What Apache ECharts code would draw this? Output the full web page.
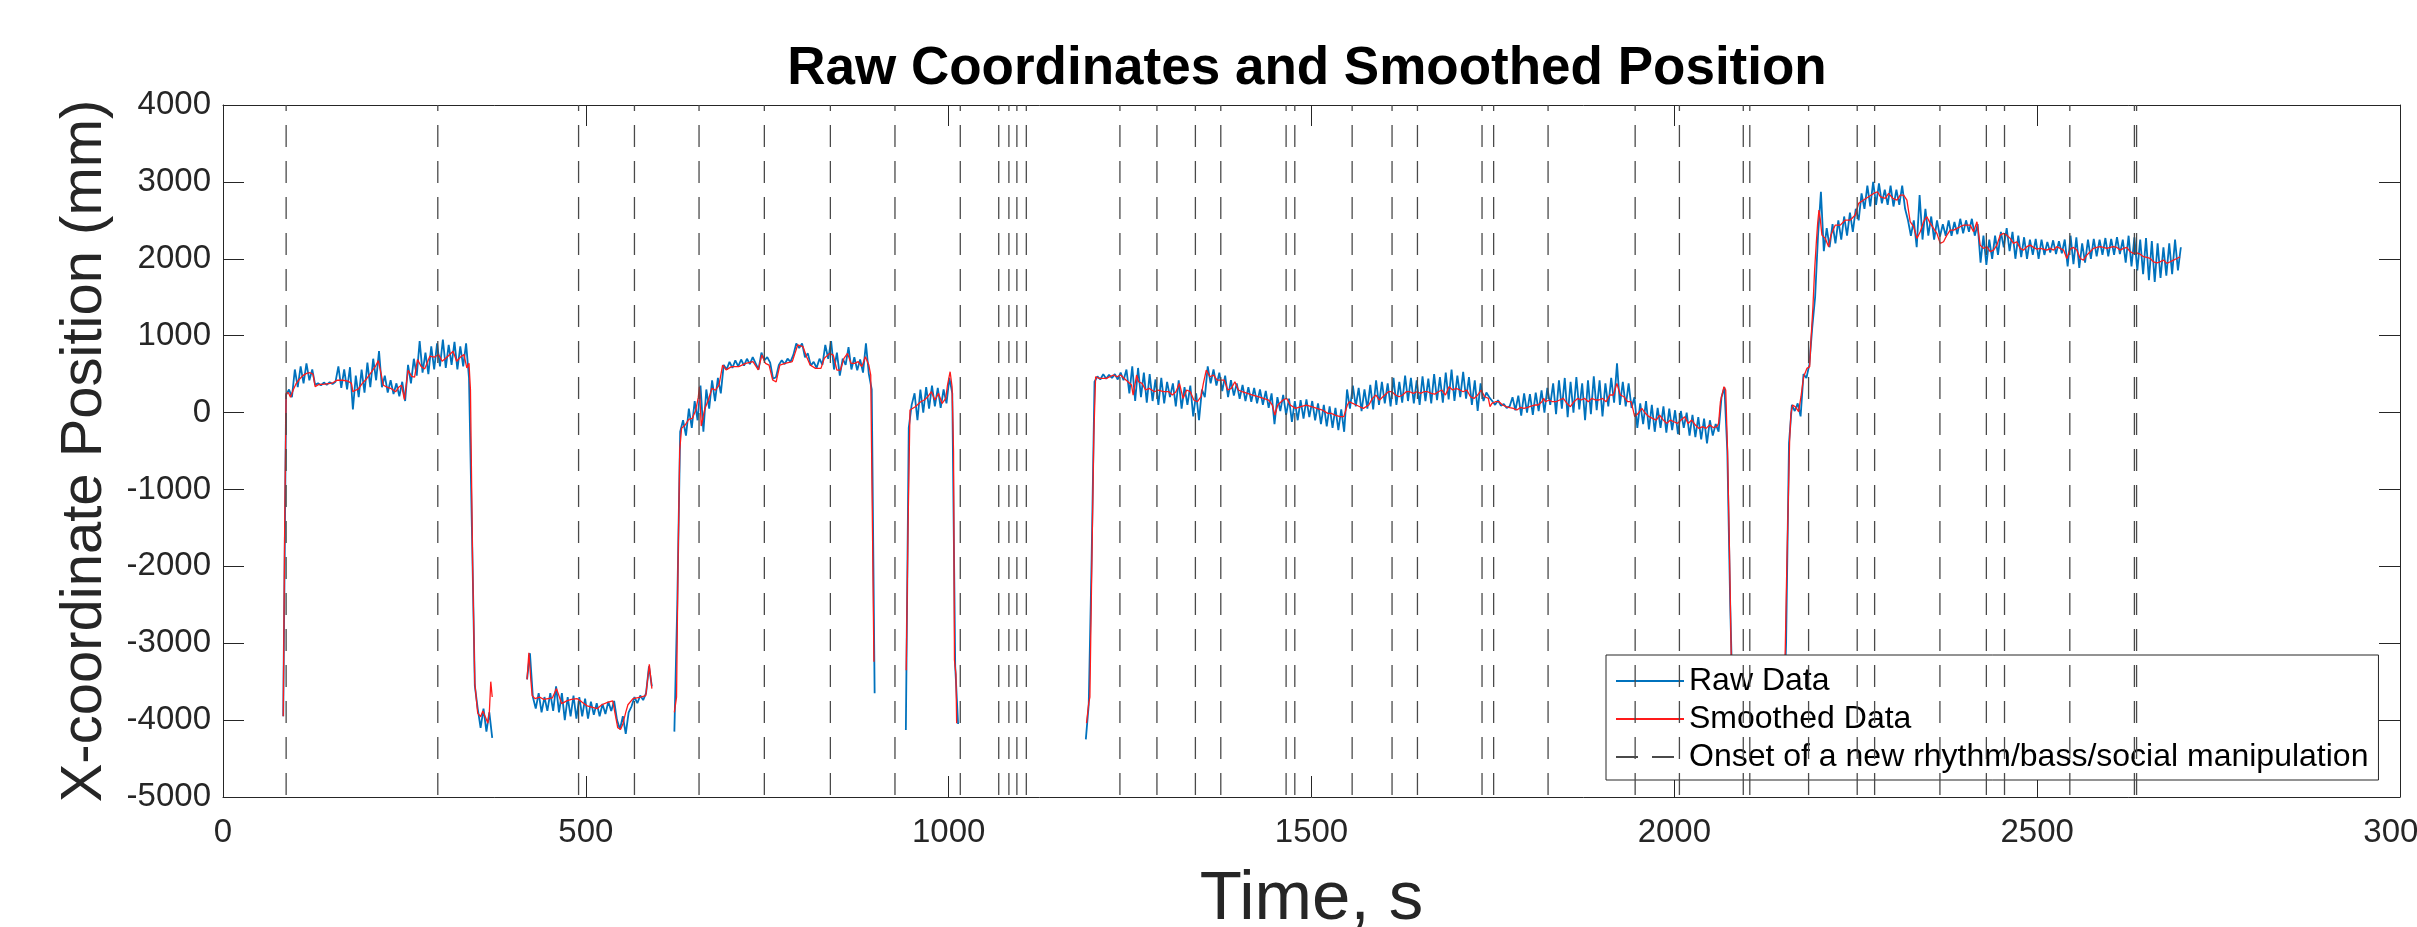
<!DOCTYPE html>
<html>
<head>
<meta charset="utf-8">
<script src="https://cdn.jsdelivr.net/npm/echarts@6/dist/echarts.min.js"></script>
<style>
  html, body { margin: 0; padding: 0; background: #fff; }
  #chart { width: 2417px; height: 927px; }
</style>
</head>
<body>
<div id="chart"></div>
<script>
// ---------------- DATA ----------------
const xTicks = [0, 500, 1000, 1500, 2000, 2500, 3000];
const yTicks = [-5000, -4000, -3000, -2000, -1000, 0, 1000, 2000, 3000, 4000];

// Onset times (s) of a new rhythm/bass/social manipulation
const onsets = [87, 296, 490, 567, 656, 746, 837, 926, 1016, 1069, 1083, 1094, 1107,
  1236, 1287, 1340, 1375, 1465, 1477, 1556, 1611, 1646, 1735, 1751, 1826, 1946, 2007,
  2095, 2104, 2185, 2252, 2276, 2366, 2430, 2455, 2545, 2634, 2637];

const rawStep = 4;
const raw1Start = 83;
const raw1 = [-3950, 230, 300, 200, 560, 330, 600, 380, 640, 420, 560, 360, 380, 355, 390, 360,
  395, 370, 400, 600, 320, 560, 300, 590, 40, 480, 200, 560, 260, 650, 330, 700, 420, 800,
  330, 480, 260, 420, 240, 380, 210, 400, 150, 620, 380, 700, 480, 930, 520, 780, 500, 860,
  560, 900, 600, 950, 580, 880, 620, 920, 560, 860, 600, 900, 450, -1500, -3550, -3850,
  -4100, -3850, -4150, -3900, -4230];
const raw2Start = 419;
const raw2 = [-3470, -3130, -3700, -3850, -3650, -3900, -3700, -3880, -3650, -3880, -3560,
  -3900, -3650, -4000, -3700, -3950, -3680, -3980, -3700, -3950, -3720, -3980, -3760, -3930,
  -3780, -3950, -3790, -3920, -3760, -3880, -3750, -4000, -4120, -3950, -4180, -3900, -3820,
  -3700, -3780, -3680, -3740, -3650, -3300, -3560];
const raw3Start = 622;
const raw3 = [-4150, -2500, -250, -100, -300, 50, -200, 150, -100, 350, -250, 300, 50, 420,
  150, 450, 250, 620, 560, 660, 580, 680, 600, 690, 610, 700, 630, 720, 640, 560, 780, 680,
  720, 650, 440, 460, 620, 680, 630, 700, 660, 750, 900, 840, 900, 720, 770, 610, 660, 580,
  700, 620, 880, 700, 930, 560, 780, 480, 700, 620, 850, 560, 720, 550, 690, 520, 900, 500,
  300, -3650];
const raw4Start = 941;
const raw4 = [-4130, -200, 100, 250, -100, 300, 0, 330, 50, 350, 80, 320, 60, 300, 120, 450,
  250, -3300, -4050];
const raw5Start = 1189;
const raw5 = [-4250, -3800, -1900, 400, 470, 430, 500, 440, 490, 450, 500, 430, 520, 420, 560,
  250, 600, 150, 580, 200, 520, 130, 500, 150, 430, 100, 450, 120, 400, 200, 380, 80, 420, 50,
  330, 100, 350, -50, 250, -100, 300, 200, 600, 380, 560, 350, 520, 280, 480, 200, 420, 220,
  380, 180, 360, 150, 330, 140, 320, 120, 300, 100, 280, 60, 250, -150, 200, 20, 230, -30,
  180, -120, 150, -100, 160, -80, 170, -60, 150, -100, 120, -150, 100, -180, 80, -200, 60,
  -230, 40, -250, 300, 50, 350, 80, 320, 20, 300, 50, 360, 40, 420, 100, 400, 120, 380, 80,
  450, 100, 400, 130, 480, 150, 450, 120, 420, 100, 470, 150, 440, 120, 500, 160, 460, 130,
  520, 170, 560, 150, 480, 200, 530, 180, 460, 100, 420, 20, 380, 150, 260, 200, 150, 100,
  160, 90, 110, 60, 80, 200, 30, 220, -40, 250, 0, 240, -30, 260, 20, 290, 0, 320, 100, 380,
  -20, 420, 50, 450, -60, 400, 0, 460, 40, 380, -100, 420, -20, 470, 30, 420, -50, 380, 80,
  450, 130, 640, 100, 400, 80, 380, 60, 200, -200, 120, -150, 150, -220, 100, -250, 60, -200,
  80, -260, 50, -230, 30, -280, 20, -200, 0, -300, -30, -320, -60, -350, -80, -400, -100,
  -300, -150, -250, 200, 330, -500, -2500, -4000];
const raw6Start = 2150;
const raw6 = [-4200, -3000, -400, 100, 20, 120, -50, 500, 450, 620, 1100, 1500, 2300, 2870,
  2100, 2400, 2150, 2450, 2200, 2500, 2250, 2550, 2300, 2600, 2350, 2650, 2500, 2850, 2650,
  2950, 2680, 3000, 2700, 2980, 2720, 2900, 2700, 2950, 2680, 2900, 2700, 2950, 2650, 2500,
  2300, 2500, 2150, 2830, 2250, 2650, 2300, 2550, 2250, 2500, 2290, 2450, 2300, 2500, 2300,
  2480, 2320, 2520, 2330, 2500, 2350, 2520, 2300, 2450, 1950, 2300, 1920, 2250, 2000, 2300,
  2050, 2350, 2150, 2400, 2100, 2350, 2000, 2300, 2020, 2280, 2000, 2250, 2050, 2260, 2000,
  2250, 2050, 2220, 2080, 2240, 2060, 2230, 2070, 2250, 1900, 2300, 1930, 2280, 1880, 2200,
  1950, 2250, 2000, 2260, 2030, 2250, 2050, 2270, 2030, 2260, 2050, 2280, 2060, 2250, 1950,
  2300, 1900, 2280, 1850, 2250, 1800, 2270, 1720, 2230, 1700, 2200, 1750, 2150, 1780, 2200,
  1800, 2250, 1850, 2150];

// Smoothed data: [time s, position mm]
const smooth1 = [[83,-3950],[85,-1500],[87,250],[90,260],[93,200],[97,300],[101,380],[105,430],
  [110,480],[115,510],[120,518],[124,500],[127,337],[132,365],[140,370],[148,380],[152,390],
  [157,420],[165,420],[172,410],[177,380],[179,270],[182,290],[186,300],[192,380],[198,440],
  [204,520],[210,600],[214,675],[218,500],[221,355],[226,330],[232,310],[238,270],[242,330],
  [246,355],[250,169],[255,550],[260,470],[264,460],[268,690],[273,600],[278,568],[285,733],
  [291,720],[297,755],[302,668],[310,733],[317,798],[322,668],[327,720],[332,755],[336,580],
  [339,640],[341,300],[344,-2000],[347,-3520],[351,-3910],[355,-3956],[358,-3880],[362,-3970],
  [365,-4040],[367,-3900],[369,-3500],[371,-3700]];
const smooth2 = [[419,-3470],[421.5,-3124],[424,-3450],[426,-3680],[430,-3720],[436,-3700],
  [442,-3730],[448,-3720],[454,-3710],[459.6,-3590],[466.6,-3785],[473.7,-3750],[480,-3730],
  [487.7,-3720],[494,-3760],[501.8,-3815],[508,-3830],[515.9,-3850],[522,-3800],[529.9,-3770],
  [537,-3750],[544,-4100],[548,-4120],[551,-4050],[555,-3900],[558,-3800],[565,-3720],
  [575.5,-3700],[582.6,-3680],[587.5,-3275],[591,-3590]];
const smooth3 = [[622,-3900],[625,-3700],[627,-2000],[629.4,-488],[631.9,-206],[636.8,-163],
  [641.7,-90],[646.6,-77],[651.5,31],[655,200],[656.5,334],[659,-176],[664,50],[668.8,163],
  [673.7,315],[678.6,290],[683.5,358],[688.5,618],[693.4,555],[700.8,597],[710.6,597],
  [720.4,640],[730.3,662],[737.7,554],[742.6,749],[747.5,640],[752.5,618],[757.4,424],
  [762.3,400],[767.3,618],[774.6,640],[784.5,662],[791.9,879],[799.3,857],[804.2,727],
  [809.1,618],[816.5,575],[824,575],[828.6,705],[836,770],[841,748],[846,553],[850.8,553],
  [855.7,705],[860.6,770],[865.5,640],[870.4,640],[875.4,662],[880.3,597],[885.2,727],
  [890,618],[892.6,488],[895,-1500],[897,-3240]];
const smooth4 = [[941.5,-3350],[944,-1500],[946.7,33],[949.2,54],[954,76],[961.5,141],
  [966.4,163],[971.3,206],[976.2,271],[981,163],[986,249],[991,119],[996,184],[998.4,358],
  [1002,531],[1004.7,336],[1006.7,-500],[1008,-3219],[1010,-3400],[1011,-4040]];
const smooth5 = [[1190,-4040],[1193,-3780],[1194.6,-3700],[1197.4,-1900],[1200,-300],
  [1202.5,466],[1207.5,444],[1217.3,444],[1227,488],[1232,466],[1237,488],[1242,444],
  [1247,401],[1252,358],[1254.2,228],[1259,488],[1261.6,401],[1266.5,379],[1271.4,293],
  [1276.3,315],[1283.7,271],[1288.6,293],[1296,271],[1303.4,271],[1308.3,228],[1313.2,271],
  [1318,379],[1323,184],[1328,293],[1333,271],[1337.8,163],[1342.8,141],[1347.7,206],
  [1351,379],[1355,553],[1360,466],[1365,488],[1370,423],[1374.7,423],[1379.7,423],
  [1384.6,293],[1389.5,315],[1394.4,401],[1399.3,293],[1404.3,271],[1411.6,249],[1419,228],
  [1426.4,206],[1433.8,184],[1441,163],[1446,98],[1449.5,-32],[1453.5,98],[1460.8,163],
  [1465.8,184],[1470.7,98],[1478,54],[1485.4,76],[1492.8,98],[1500,76],[1507.6,54],[1515,33],
  [1522.4,-10],[1527.3,-10],[1532.2,-32],[1539.6,-54],[1544.5,-54],[1549.4,98],[1552,141],
  [1556.8,119],[1561.7,98],[1566.6,76],[1571.5,54],[1579,98],[1584,184],[1588.8,228],
  [1593.7,163],[1596,163],[1601,228],[1606,271],[1610.8,271],[1615.7,228],[1620.7,206],
  [1625.6,228],[1630.5,271],[1635.4,271],[1640.3,249],[1645.3,271],[1650.2,249],[1655,271],
  [1660,271],[1665,249],[1669.9,240],[1674.8,271],[1679.7,293],[1684.6,228],[1689.5,336],
  [1694.5,293],[1699.4,315],[1704.3,293],[1709,271],[1714,293],[1719,206],[1724,184],
  [1729,228],[1733.8,293],[1738.7,206],[1743.7,184],[1746,76],[1748.6,119],[1753.5,141],
  [1758.4,141],[1763.3,98],[1768.3,76],[1773.2,63],[1778.1,54],[1783,33],[1788,67],
  [1792.8,54],[1797.8,67],[1802.7,85],[1807.6,98],[1812.5,98],[1817.5,141],[1820,184],
  [1822.4,141],[1827.3,163],[1832.2,141],[1837.1,141],[1842,163],[1847,184],[1852,119],
  [1856.8,76],[1861.7,141],[1866.7,184],[1871.6,163],[1876.5,184],[1881.4,141],[1886.3,184],
  [1891.3,163],[1896.2,163],[1901,184],[1906,141],[1911,228],[1915.9,228],[1920.8,379],
  [1925.7,228],[1930.6,206],[1935.5,141],[1940.5,141],[1945.4,-54],[1950.3,-10],[1955.2,54],
  [1960.1,-10],[1965,-54],[1970,-76],[1975,-98],[1979.8,-32],[1984.7,-98],[1989.7,-141],
  [1994.6,-98],[1999.5,-120],[2004.4,-141],[2009.3,-98],[2014.3,-54],[2019,-141],[2024,-98],
  [2029,-163],[2034,-206],[2038.9,-184],[2043.8,-206],[2048.7,-163],[2053.6,-195],
  [2058.5,-184],[2061,-141],[2063.5,141],[2068.4,336],[2070.8,293],[2073.3,-488],
  [2076,-1800],[2079,-3500],[2081,-4000]];
const smooth6 = [[2151,-4000],[2155,-2000],[2158.9,-358],[2160.7,-10],[2163,98],[2166.7,76],
  [2171.3,11],[2174.5,206],[2178.2,466],[2182.8,575],[2186.5,597],[2188.3,943],[2191,1376],
  [2193.3,1853],[2195.6,2200],[2197.5,2460],[2199.3,2634],[2201,2525],[2203.4,2308],
  [2208,2265],[2212.6,2157],[2215.8,2308],[2221.8,2438],[2228.7,2438],[2235.6,2504],
  [2242.5,2504],[2249.3,2569],[2254,2721],[2260.8,2764],[2267.7,2807],[2274.6,2850],
  [2280,2872],[2283.8,2807],[2290.7,2785],[2295.3,2850],[2301,2785],[2306.7,2764],
  [2311.3,2828],[2316,2828],[2320.5,2764],[2325,2482],[2329.7,2417],[2334.3,2265],
  [2338.9,2352],[2343.5,2482],[2348,2547],[2352.6,2460],[2357.2,2395],[2361.8,2330],
  [2366.4,2200],[2371,2222],[2375.6,2308],[2380.2,2373],[2384.8,2373],[2389.4,2395],
  [2394,2417],[2398.6,2438],[2403.1,2438],[2407.7,2438],[2412.3,2352],[2417,2482],
  [2421.5,2178],[2426,2135],[2430.7,2157],[2435.3,2092],[2439.9,2113],[2444.5,2178],
  [2449,2308],[2453.6,2330],[2458.2,2308],[2462.8,2265],[2467.4,2200],[2472,2222],
  [2476.6,2135],[2481.2,2113],[2485.8,2157],[2490.4,2178],[2495,2148],[2499.6,2126],
  [2504,2135],[2508.7,2126],[2513.3,2113],[2518,2135],[2522.5,2113],[2527,2157],
  [2531.7,2135],[2536.3,2113],[2540.9,2004],[2545.5,2126],[2550,2148],[2554.7,2113],
  [2559.3,2004],[2563.8,1983],[2568.4,2048],[2573,2092],[2577.6,2135],[2582.2,2148],
  [2586.8,2157],[2591.4,2148],[2596,2135],[2600.6,2148],[2605.2,2157],[2609.8,2148],
  [2614.4,2113],[2619,2135],[2623.5,2148],[2628,2092],[2632.7,2070],[2637.3,2078],
  [2641.9,2060],[2646.5,2027],[2651,2018],[2655.7,2004],[2660.3,1961],[2665,1948],
  [2669.5,1961],[2674,1983],[2678.7,1940],[2683.3,1961],[2687.9,1983],[2692.5,2004],
  [2697,2027]];

// ---------------- BUILD SERIES DATA ----------------
function segFromSteps(start, vals) {
  return vals.map((v, i) => [start + i * rawStep, v]);
}
function joinSegments(segs) {
  const out = [];
  segs.forEach((s, k) => {
    if (k > 0) out.push([s[0][0] - 0.5, '-']);
    s.forEach(p => out.push(p));
  });
  return out;
}
const rawData = joinSegments([
  segFromSteps(raw1Start, raw1), segFromSteps(raw2Start, raw2), segFromSteps(raw3Start, raw3),
  segFromSteps(raw4Start, raw4), segFromSteps(raw5Start, raw5), segFromSteps(raw6Start, raw6)
]);
const smoothData = joinSegments([smooth1, smooth2, smooth3, smooth4, smooth5, smooth6]);
const yMin = yTicks[0], yMax = yTicks[yTicks.length - 1];
const onsetData = [];
onsets.forEach((t, i) => {
  if (i > 0) onsetData.push([t, '-']);
  onsetData.push([t, yMax]);
  onsetData.push([t, yMin]);
});

// ---------------- CHART ----------------
const FONT = "'Liberation Sans', Arial, Helvetica, sans-serif";
const AX = '#262626';
const chart = echarts.init(document.getElementById('chart'), null, { renderer: 'canvas' });

const tickStyle = { show: true, inside: true, length: 21, lineStyle: { color: AX, width: 1 } };
const xBase = { type: 'value', min: xTicks[0], max: xTicks[xTicks.length - 1], interval: 500,
  splitLine: { show: false }, axisLine: { show: true, onZero: false, lineStyle: { color: AX, width: 1 } } };
const yBase = { type: 'value', min: yMin, max: yMax, interval: 1000,
  splitLine: { show: false }, axisLine: { show: true, onZero: false, lineStyle: { color: AX, width: 1 } } };

chart.setOption({
  animation: false,
  backgroundColor: '#ffffff',
  title: {
    text: 'Raw Coordinates and Smoothed Position',
    left: 1302, top: 38, textAlign: 'center',
    textStyle: { fontFamily: FONT, fontSize: 53, fontWeight: 'bold', color: '#000' }
  },
  grid: { left: 223, right: 17, top: 105, bottom: 130, containLabel: false,
    outerBoundsMode: 'none' },
  xAxis: [
    Object.assign({}, xBase, {
      position: 'bottom',
      axisTick: tickStyle,
      axisLabel: { show: true, margin: 19, fontFamily: FONT, fontSize: 33, color: AX,
        formatter: v => String(v), hideOverlap: false },
      name: 'Time, s', nameLocation: 'middle', nameGap: 68,
      nameTextStyle: { fontFamily: FONT, fontSize: 69, color: AX }
    }),
    Object.assign({}, xBase, { position: 'top', axisTick: tickStyle, axisLabel: { show: false } })
  ],
  yAxis: [
    Object.assign({}, yBase, {
      position: 'left',
      axisTick: tickStyle,
      axisLabel: { show: true, margin: 12, fontFamily: FONT, fontSize: 33, color: AX,
        formatter: v => String(v) },
      name: 'X-coordinate Position (mm)', nameLocation: 'middle', nameGap: 109,
      nameTextStyle: { fontFamily: FONT, fontSize: 58, color: AX }
    }),
    Object.assign({}, yBase, { position: 'right', axisTick: tickStyle, axisLabel: { show: false } })
  ],
  legend: {
    orient: 'vertical',
    left: 1606, top: 655,
    padding: [7, 10, 4, 9],
    itemGap: 0,
    itemWidth: 68, itemHeight: 14,
    itemStyle: { opacity: 0, color: 'rgba(0,0,0,0)', borderColor: 'rgba(0,0,0,0)', borderWidth: 0 },
    lineStyle: { dashOffset: 0 },
    backgroundColor: '#ffffff',
    borderColor: AX, borderWidth: 1, borderRadius: 0,
    textStyle: { fontFamily: FONT, fontSize: 32, color: '#000', lineHeight: 38 },
    data: ['Raw Data', 'Smoothed Data', 'Onset of a new rhythm/bass/social manipulation']
  },
  series: [
    {
      name: 'Raw Data', type: 'line', xAxisIndex: 0, yAxisIndex: 0,
      data: rawData, symbol: 'none', showSymbol: false, connectNulls: false,
      sampling: null, z: 2,
      lineStyle: { color: '#0072BD', width: 1.8 }, itemStyle: { color: '#0072BD' }
    },
    {
      name: 'Smoothed Data', type: 'line', xAxisIndex: 0, yAxisIndex: 0,
      data: smoothData, symbol: 'none', showSymbol: false, connectNulls: false, z: 3,
      lineStyle: { color: '#ff1a1a', width: 1.3 }, itemStyle: { color: '#ff1a1a' }
    },
    {
      name: 'Onset of a new rhythm/bass/social manipulation', type: 'line',
      xAxisIndex: 0, yAxisIndex: 0,
      data: onsetData, symbol: 'none', showSymbol: false, connectNulls: false, z: 4,
      lineStyle: { color: '#4a4a4a', width: 1.3, type: [22, 14], dashOffset: 16 },
      itemStyle: { color: '#4a4a4a' }
    }
  ]
});
</script>
</body>
</html>
